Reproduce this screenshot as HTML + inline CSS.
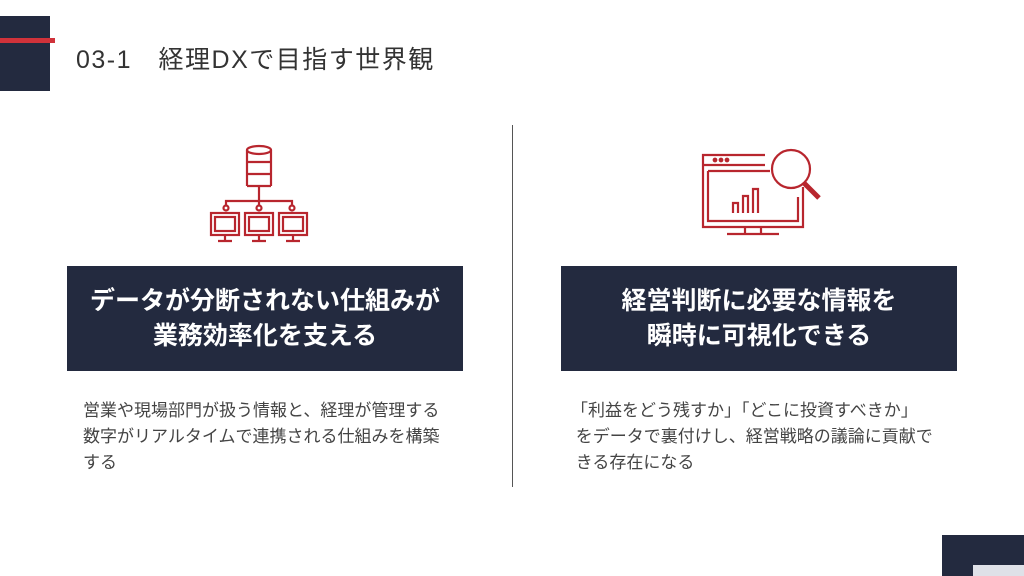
<!DOCTYPE html>
<html><head><meta charset="utf-8"><style>
body{margin:0;width:1024px;height:576px;background:#fff;position:relative;overflow:hidden;font-family:"Liberation Sans","Noto Sans CJK JP",sans-serif;}
.a{position:absolute;}
.box{position:absolute;top:266px;width:396px;height:105px;background:#232a3f;color:#fff;font-weight:bold;font-size:25px;line-height:35px;text-align:center;display:flex;align-items:center;justify-content:center;white-space:nowrap;}
.body{position:absolute;top:398px;font-size:17px;line-height:26px;color:#444;white-space:nowrap;}
</style></head><body>
<div class="a" style="left:0;top:16px;width:50px;height:75px;background:#232a3f"></div>
<div class="a" style="left:0;top:38px;width:55px;height:5px;background:#d0323a"></div>
<div class="a" style="left:76px;top:40px;font-size:25px;color:#333;letter-spacing:1.5px;white-space:nowrap">03-1　経理DXで目指す世界観</div>
<div class="a" style="left:512px;top:125px;width:1px;height:362px;background:#555"></div>
<svg class="a" style="left:203px;top:140px" width="110" height="110" viewBox="0 0 110 110" fill="none" stroke="#b8262e" stroke-width="2.2">
<ellipse cx="56" cy="10" rx="12" ry="4"/><path d="M44 10v36M68 10v36M44 22h24M44 34h24M44 46h24"/>
<path d="M56 46v15M23 65v-4h66v4M56 61v4"/>
<circle cx="23" cy="68" r="2.5"/><circle cx="56" cy="68" r="2.5"/><circle cx="89" cy="68" r="2.5"/>
<rect x="8" y="73" width="28" height="22"/><rect x="12" y="77" width="20" height="14"/>
<rect x="42" y="73" width="28" height="22"/><rect x="46" y="77" width="20" height="14"/>
<rect x="76" y="73" width="28" height="22"/><rect x="80" y="77" width="20" height="14"/>
<path d="M22 95v5M15 101h14M56 95v5M49 101h14M90 95v5M83 101h14"/>
</svg>
<svg class="a" style="left:695px;top:145px" width="135" height="95" viewBox="0 0 135 95" fill="none" stroke="#b8262e" stroke-width="2.2">
<path d="M70 10H8v72h100V42"/><path d="M8 20h62M13 26h62M13 26v50h90V52"/>
<circle cx="20" cy="15" r="1.3" fill="#b8262e"/><circle cx="26" cy="15" r="1.3" fill="#b8262e"/><circle cx="32" cy="15" r="1.3" fill="#b8262e"/>
<path d="M38 68v-10h5v10M48 68v-17h5v17M58 68v-24h5v24"/>
<circle cx="96" cy="24" r="19"/><path d="M109 38l15 15" stroke-width="5"/>
<path d="M50 82v6M66 82v6M32 89h52"/>
</svg>
<div class="box" style="left:67px">データが分断されない仕組みが<br>業務効率化を支える</div>
<div class="box" style="left:561px">経営判断に必要な情報を<br>瞬時に可視化できる</div>
<div class="body" style="left:83px">営業や現場部門が扱う情報と、経理が管理する<br>数字がリアルタイムで連携される仕組みを構築<br>する</div>
<div class="body" style="left:571px">「利益をどう残すか」「どこに投資すべきか」<br>&nbsp;をデータで裏付けし、経営戦略の議論に貢献で<br>&nbsp;きる存在になる</div>
<div class="a" style="left:942px;top:535px;width:82px;height:41px;background:#232a3f"></div>
<div class="a" style="left:973px;top:565px;width:51px;height:11px;background:#dfe1e8"></div>
</body></html>
